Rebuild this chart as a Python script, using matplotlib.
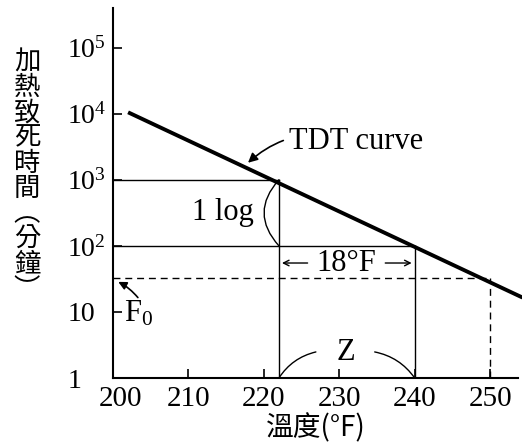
import matplotlib
matplotlib.use("Agg")
import matplotlib.pyplot as plt
from matplotlib.transforms import ScaledTranslation

plt.rcParams['font.family'] = ['Liberation Serif', 'DejaVu Serif']
plt.rcParams['mathtext.fontset'] = 'custom'
plt.rcParams['mathtext.rm'] = 'Liberation Serif'
plt.rcParams['mathtext.it'] = 'Liberation Serif:italic'

# Datos
tdt_temp = [202, 254.3]          # recta TDT (°F)
tdt_time = [10500, 16.5]         # minutos
temp_1000 = 222                  # punto 10^3
temp_100 = 240                   # punto 10^2
f0_temp = 250
f0_time = 32.7
xticks = [200, 210, 220, 230, 240, 250]
yticks = [1, 10, 100, 1000, 10000, 100000]
ylabels = ['1', '10', '10$^2$', '10$^3$', '10$^4$', '10$^5$']
ylab_chars = ['加', '熱', '致', '死', '時', '間', '︵', '分', '鐘', '︶']

fig = plt.figure(figsize=(5.22, 4.46), dpi=100)
ax = fig.add_axes([113/522, 68/446, 405/522, 370/446])
ax.set_yscale('log')
ax.set_xlim(200, 253.7)
ax.set_ylim(1, 10**5.6)

for s in ['top', 'right']:
    ax.spines[s].set_visible(False)
for s in ['left', 'bottom']:
    ax.spines[s].set_linewidth(1.5)

ax.set_xticks(xticks)
ax.set_xticklabels([str(t) for t in xticks])
ax.set_yticks(yticks)
ax.set_yticklabels(ylabels)
ax.minorticks_off()
ax.tick_params(axis='both', direction='in', length=6.5, width=1.2)
ax.tick_params(axis='y', pad=33, labelsize=20)
ax.tick_params(axis='x', pad=6, labelsize=21)
for lab in ax.get_yticklabels():
    lab.set_horizontalalignment('left')
# "200" un poco a la derecha
lab200 = ax.get_xticklabels()[0]
lab200.set_transform(lab200.get_transform() + ScaledTranslation(7/100, 0, fig.dpi_scale_trans))

lw = 1.0
fs = 22
# TDT curve
ax.plot(tdt_temp, tdt_time, color='black', lw=2.8, clip_on=False, solid_capstyle='butt')
# guías
ax.plot([200, temp_1000], [1000, 1000], color='black', lw=lw)
ax.plot([temp_1000, temp_1000], [1, 1000], color='black', lw=lw)
ax.plot([200, temp_100], [100, 100], color='black', lw=lw)
ax.plot([temp_100, temp_100], [1, 100], color='black', lw=lw)
# F0
ax.plot([200, f0_temp], [f0_time, f0_time], color='black', lw=lw, ls=(0, (5, 3.5)))
ax.plot([f0_temp, f0_temp], [1, f0_time], color='black', lw=lw, ls=(0, (5, 3.5)))

# 1 log arco
ax.annotate('', xy=(temp_1000, 100), xytext=(temp_1000, 1000),
            arrowprops=dict(arrowstyle='-', lw=lw, connectionstyle='arc3,rad=0.45',
                            shrinkA=0, shrinkB=0))
ax.text(214.6, 316, '1 log', fontsize=fs, ha='center', va='center')

# 18°F
ax.annotate('', xy=(222.4, 55), xytext=(225.8, 55),
            arrowprops=dict(arrowstyle='->', lw=lw, shrinkA=0, shrinkB=0))
ax.annotate('', xy=(239.6, 55), xytext=(236.1, 55),
            arrowprops=dict(arrowstyle='->', lw=lw, shrinkA=0, shrinkB=0))
ax.text(230.9, 55, '18°F', fontsize=fs, ha='center', va='center')

# Z
ax.annotate('', xy=(226.9, 2.48), xytext=(temp_1000, 1),
            arrowprops=dict(arrowstyle='-', lw=lw, connectionstyle='arc3,rad=-0.2',
                            shrinkA=0, shrinkB=0))
ax.annotate('', xy=(temp_100, 1), xytext=(234.7, 2.48),
            arrowprops=dict(arrowstyle='-', lw=lw, connectionstyle='arc3,rad=-0.2',
                            shrinkA=0, shrinkB=0))
ax.text(230.9, 2.45, 'Z', fontsize=fs, ha='center', va='center')

# TDT curve etiqueta
ax.annotate('TDT curve', xy=(217.9, 1810), xytext=(223.3, 3770),
            fontsize=fs, ha='left', va='center',
            arrowprops=dict(arrowstyle='-|>', lw=1.2, color='black',
                            connectionstyle='arc3,rad=0.3', shrinkA=2, shrinkB=0,
                            mutation_scale=14))

# F0 etiqueta
ax.annotate('', xy=(200.7, 28.5), xytext=(203.3, 16.5),
            arrowprops=dict(arrowstyle='-|>', lw=1.2, color='black',
                            connectionstyle='arc3,rad=0.1', shrinkA=0, shrinkB=0,
                            mutation_scale=12))
ax.text(201.5, 9.3, 'F$_0$', fontsize=fs, ha='left', va='center')

# ejes
ax.set_xlabel('溫度(°F)', fontsize=20, family=['Noto Sans CJK TC', 'Liberation Serif'], labelpad=1)
y0 = 62
for i, ch in enumerate(ylab_chars):
    fig.text(27/522, 1 - (y0 + i*25.3)/446, ch, fontsize=19, ha='center', va='center',
             family=['Noto Sans CJK TC', 'DejaVu Sans'])

fig.savefig('out.png', dpi=100)
